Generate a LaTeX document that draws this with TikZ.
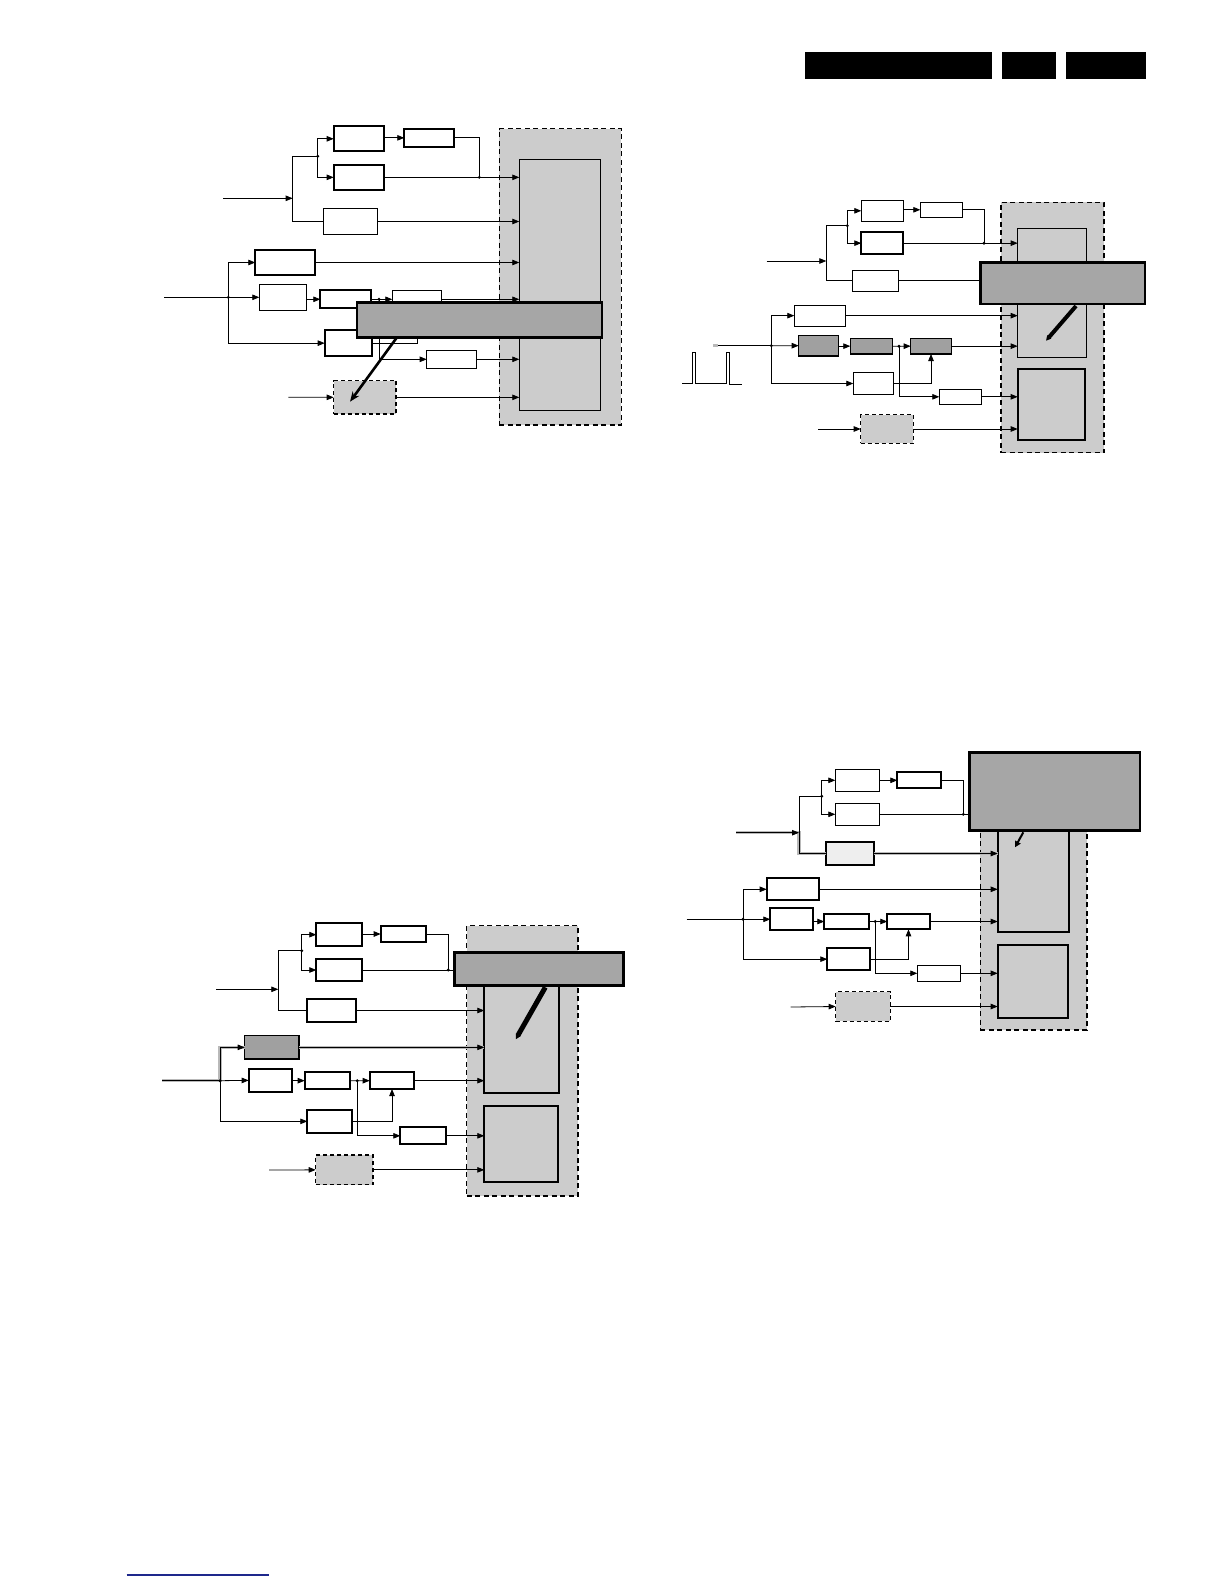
\documentclass[tikz,border=0pt]{standalone}
\usetikzlibrary{arrows.meta}
\definecolor{bggray}{RGB}{204,204,204}
\definecolor{ovgray}{RGB}{166,166,166}
\definecolor{dkgray}{RGB}{160,160,160}
\definecolor{ltgray}{RGB}{238,238,238}
\definecolor{halogray}{RGB}{185,185,185}
\definecolor{navyline}{RGB}{30,40,140}
\tikzset{
  box/.style={draw, line width=0.9pt, fill=white, inner sep=0pt, outer sep=0pt},
  tbox/.style={box, line width=1.7pt},
  dbox/.style={box, line width=1.5pt, fill=dkgray},
  lbox/.style={box, line width=1.7pt, fill=ltgray},
  cbox/.style={box, line width=1.3pt, fill=bggray, dash pattern=on 4pt off 3pt},
  outerbox/.style={box, line width=1.3pt, fill=bggray, dash pattern=on 5pt off 3.5pt},
  innerbox/.style={box, line width=1pt, fill=bggray},
  innertbox/.style={box, line width=1.7pt, fill=bggray},
  ovbox/.style={box, line width=2.8pt, fill=ovgray},
  hdrbox/.style={fill=black, inner sep=0pt, outer sep=0pt},
  ln/.style={line width=0.8pt},
  arr/.style={ln, -{Triangle[length=7pt,width=5.5pt]}},
  halo/.style={line width=3.2pt, halogray},
  pen/.style={line width=4pt, -{Triangle[length=5pt,width=5pt]}},
}
\newcommand\mkbox[6]{\node[#6, minimum width={(#4-#2)*1pt}, minimum height={(#5-#3)*1pt}] (#1) at ({(#2+#4)/2},{(#3+#5)/2}) {};}
\newcommand\jdot[1]{\fill (#1) circle (1.6pt);}
\begin{document}
\begin{tikzpicture}[x=1pt,y=-1pt]
\useasboundingbox[fill=white] (0,0) rectangle (1224,1584);

% ---------------- header ----------------
\mkbox{h1}{805}{52}{992}{78.7}{hdrbox}
\mkbox{h2}{1002}{52}{1056}{78.7}{hdrbox}
\mkbox{h3}{1066}{52}{1145.7}{78.7}{hdrbox}
\coordinate (fl1) at (126.7,1575);
\coordinate (fl2) at (269,1575);
\draw[navyline, line width=1.2pt] (fl1) -- (fl2);

% =============== Diagram 1 (top left) ===============
\mkbox{pout}{499.3}{128.7}{621.3}{425}{outerbox}
\mkbox{pin}{519.3}{159.3}{600}{410}{innerbox}
\mkbox{pa1}{333.7}{126.3}{384.3}{151.3}{tbox}
\mkbox{pa2}{404.3}{128.7}{454.3}{147}{tbox}
\mkbox{pa3}{333.7}{164.7}{384.3}{190}{tbox}
\mkbox{pa4}{323.3}{208.7}{377.7}{234.3}{box}
\mkbox{pb1}{255.3}{249.7}{315.3}{275.3}{tbox}
\mkbox{pb2}{259.3}{284.3}{306.7}{310.3}{box}
\mkbox{pb3}{320.3}{290.3}{371.3}{308.3}{tbox}
\mkbox{pb4}{392.3}{290.3}{441.7}{308.3}{box}
\mkbox{pb5}{324.7}{330.3}{372.3}{356}{tbox}
\mkbox{pb6}{426.7}{350.3}{476}{368.3}{box}
\mkbox{pc}{333.7}{380.7}{396}{414}{cbox}
\coordinate (pi1) at (223,198.3);
\coordinate (pv1) at (292.7,198.3);
\coordinate (pt1) at (292.7,156.3);
\coordinate (ps1) at (317.7,156.3);
\coordinate (pj1) at (479.3,177.3);
\coordinate (pi2) at (164,297.3);
\coordinate (ps2) at (228.3,297.3);
\coordinate (pk) at (379,299.3);
\coordinate (pi3) at (288.3,397.3);
\draw[arr] (pi1) -- (pv1);
\draw[ln] (pa4.west) -| (pt1) -- (ps1);
\draw[arr] (ps1) |- (pa1.west);
\draw[arr] (ps1) |- (pa3.west);
\draw[arr] (pa1.east |- pa2.west) -- (pa2.west);
\draw[ln] (pa2.east) -| (pj1);
\draw[arr] (pa3.east) -- (pa3.east -| pin.west);
\draw[arr] (pa4.east) -- (pa4.east -| pin.west);
\draw[ln] (pi2) -- (ps2);
\draw[arr] (ps2) |- (pb1.west);
\draw[arr] (ps2) -- (pb2.west);
\draw[arr] (ps2) |- (pb5.west);
\draw[arr] (pb1.east) -- (pb1.east -| pin.west);
\draw[arr] (pb2.east |- pb3.west) -- (pb3.west);
\draw[ln] (pb3.east) -- (pk);
\draw[arr] (pk) -- (pb4.west);
\draw[arr] (pk) |- (pb6.west);
\draw[arr] (pb4.east) -- (pb4.east -| pin.west);
\draw[arr] (pb6.east) -- (pb6.east -| pin.west);
\draw[arr] (pb5.east) -| (pb4.south);
\draw[arr] (pi3) -- (pc.west);
\draw[arr] (pc.east) -- (pc.east -| pin.west);
\jdot{ps1} \jdot{pj1} \jdot{ps2} \jdot{pk}
\mkbox{pov}{357}{302.7}{602}{337.7}{ovbox}
\coordinate (pp1) at (396.7,337.7);
\coordinate (pp2) at (350,401.7);
\draw[line width=2.6pt, -{Stealth[length=10pt,width=8pt]}] (pp1) -- (pp2);

% =============== Diagram 2 (top right) ===============
\mkbox{qout}{1001}{202.3}{1104}{452.7}{outerbox}
\mkbox{qin}{1017.7}{228.3}{1086.3}{357.3}{innerbox}
\mkbox{qin2}{1017.7}{369.3}{1085.3}{439.7}{innertbox}
\mkbox{qa1}{861.3}{200.3}{903.3}{221.3}{box}
\mkbox{qa2}{920.3}{202.3}{962.7}{217.3}{box}
\mkbox{qa3}{861.3}{232.3}{903.3}{254}{tbox}
\mkbox{qa4}{852.3}{270.3}{898.7}{291.3}{box}
\mkbox{qb1}{794.3}{305}{845.3}{326.3}{box}
\mkbox{qb2}{798.7}{335.3}{838.3}{356}{dbox}
\mkbox{qb3}{850.3}{338.3}{892.3}{354}{dbox}
\mkbox{qb4}{910.7}{338.3}{951.3}{354}{dbox}
\mkbox{qb5}{853.3}{372.7}{893.3}{394.3}{box}
\mkbox{qb6}{939.3}{389.3}{981.3}{404.3}{box}
\mkbox{qc}{860.7}{414.7}{913.3}{443.3}{cbox}
\coordinate (qi1) at (766.7,261);
\coordinate (qv1) at (826.3,261);
\coordinate (qt1) at (826.3,225.7);
\coordinate (qs1) at (847.3,225.7);
\coordinate (qj1) at (984,243.2);
\coordinate (qi2) at (713.3,345.7);
\coordinate (qh2) at (718,345.7);
\coordinate (qs2) at (771.3,345.7);
\coordinate (qk) at (899,346.2);
\coordinate (qi3) at (818,429);
\draw[arr] (qi1) -- (qv1);
\draw[ln] (qa4.west) -| (qt1) -- (qs1);
\draw[arr] (qs1) |- (qa1.west);
\draw[arr] (qs1) |- (qa3.west);
\draw[arr] (qa1.east |- qa2.west) -- (qa2.west);
\draw[ln] (qa2.east) -| (qj1);
\draw[arr] (qa3.east) -- (qa3.east -| qin.west);
\draw[arr] (qa4.east) -- (qa4.east -| qin.west);
\draw[halo] (qi2) -- (qh2);
\draw[ln] (qh2) -- (qs2);
\draw[arr] (qs2) |- (qb1.west);
\draw[arr] (qs2) -- (qb2.west);
\draw[arr] (qs2) |- (qb5.west);
\draw[arr] (qb1.east) -- (qb1.east -| qin.west);
\draw[arr] (qb2.east |- qb3.west) -- (qb3.west);
\draw[ln] (qb3.east) -- (qk);
\draw[arr] (qk) -- (qb4.west);
\draw[arr] (qk) |- (qb6.west);
\draw[arr] (qb4.east) -- (qb4.east -| qin.west);
\draw[arr] (qb6.east) -- (qb6.east -| qin2.west);
\draw[arr] (qb5.east) -| (qb4.south);
\draw[arr] (qi3) -- (qc.west);
\draw[arr] (qc.east) -- (qc.east -| qin2.west);
\jdot{qs1} \jdot{qj1} \jdot{qs2} \jdot{qk}
\mkbox{qov}{980.7}{262.7}{1145}{304}{ovbox}
\coordinate (qp1) at (1076,306);
\coordinate (qp2) at (1046,340.7);
\draw[pen] (qp1) -- (qp2);
% pulse waveform
\draw[line width=0.9pt] (682.3,383.3) -- (692.3,383.3) -- (692.3,352.3) -- (695.7,352.3) -- (695.7,383.3)
  -- (726,383.3) -- (726,352.3) -- (729.3,352.3) -- (729.3,384.3) -- (741.7,384.3);

% =============== Diagram 3 (bottom left) ===============
\mkbox{rout}{466.7}{925.7}{578}{1196}{outerbox}
\mkbox{rin}{484.3}{960}{559.3}{1092.7}{innertbox}
\mkbox{rin2}{484.3}{1105.7}{558.3}{1182.3}{innertbox}
\mkbox{ra1}{316.3}{923.3}{362.3}{946}{tbox}
\mkbox{ra2}{380.7}{925.7}{426.3}{942.3}{tbox}
\mkbox{ra3}{316.3}{958.7}{362.3}{981.3}{tbox}
\mkbox{ra4}{306.7}{998.7}{356.3}{1022.3}{tbox}
\mkbox{rb1}{244.7}{1035.7}{299}{1059}{dbox}
\mkbox{rb2}{248.7}{1068.7}{292.3}{1092}{tbox}
\mkbox{rb3}{304.7}{1072.3}{350.3}{1089}{tbox}
\mkbox{rb4}{369.7}{1072.3}{414.3}{1089}{tbox}
\mkbox{rb5}{307.3}{1109.7}{352.3}{1133}{tbox}
\mkbox{rb6}{400.3}{1127.3}{446.3}{1144.3}{tbox}
\mkbox{rc}{315.7}{1155}{373}{1184.7}{cbox}
\coordinate (ri1) at (216,989.3);
\coordinate (rv1) at (278.3,989.3);
\coordinate (rt1) at (278.3,950.7);
\coordinate (rs1) at (301.7,950.7);
\coordinate (rj1) at (448.3,970);
\coordinate (ri2) at (162,1080.7);
\coordinate (rs2) at (220,1080.7);
\coordinate (rk) at (357.3,1080.7);
\coordinate (ri3) at (269,1170);
\draw[arr] (ri1) -- (rv1);
\draw[ln] (ra4.west) -| (rt1) -- (rs1);
\draw[arr] (rs1) |- (ra1.west);
\draw[arr] (rs1) |- (ra3.west);
\draw[arr] (ra1.east |- ra2.west) -- (ra2.west);
\draw[ln] (ra2.east) -| (rj1);
\draw[arr] (ra3.east) -- (ra3.east -| rin.west);
\draw[arr] (ra4.east) -- (ra4.east -| rin.west);
\draw[halo] (ri2) -- (rs2) |- (rb1.west);
\draw[halo] (rb1.east) -- (rb1.east -| rin.west);
\draw[ln] (ri2) -- (rs2);
\draw[arr] (rs2) |- (rb1.west);
\draw[arr] (rs2) -- (rb2.west);
\draw[arr] (rs2) |- (rb5.west);
\draw[arr] (rb1.east) -- (rb1.east -| rin.west);
\draw[arr] (rb2.east |- rb3.west) -- (rb3.west);
\draw[ln] (rb3.east) -- (rk);
\draw[arr] (rk) -- (rb4.west);
\draw[arr] (rk) |- (rb6.west);
\draw[arr] (rb4.east) -- (rb4.east -| rin.west);
\draw[arr] (rb6.east) -- (rb6.east -| rin2.west);
\draw[arr] (rb5.east) -| (rb4.south);
\draw[arr] (ri3) -- (rc.west);
\draw[arr] (rc.east) -- (rc.east -| rin2.west);
\jdot{rs1} \jdot{rj1} \jdot{rs2} \jdot{rk}
\mkbox{rov}{454.3}{952.7}{623.3}{985.3}{ovbox}
\coordinate (rp1) at (545.3,987.3);
\coordinate (rp2) at (515.7,1039.3);
\draw[pen, line width=5pt] (rp1) -- (rp2);

% =============== Diagram 4 (bottom right) ===============
\mkbox{sout}{980.3}{800}{1087}{1030}{outerbox}
\mkbox{sin}{997.7}{815}{1069.3}{932}{innertbox}
\mkbox{sin2}{997.7}{944.7}{1068.3}{1018}{innertbox}
\mkbox{sa1}{835.3}{769.3}{879.3}{791.3}{box}
\mkbox{sa2}{897.3}{772.3}{941.3}{788.3}{tbox}
\mkbox{sa3}{835.3}{803.3}{879.3}{825.3}{box}
\mkbox{sa4}{826.3}{842.3}{874}{864.7}{lbox}
\mkbox{sb1}{766.7}{878.3}{819.3}{900.3}{tbox}
\mkbox{sb2}{770.3}{908.3}{812.7}{930.3}{tbox}
\mkbox{sb3}{824.3}{913.7}{868.7}{929.3}{tbox}
\mkbox{sb4}{887.3}{913.7}{929.7}{929.3}{tbox}
\mkbox{sb5}{827.3}{948.3}{869.7}{970}{tbox}
\mkbox{sb6}{917.3}{965.3}{960.3}{981.3}{box}
\mkbox{sc}{835.7}{991.7}{890.3}{1021.3}{cbox}
\coordinate (si1) at (736,832.7);
\coordinate (sv1) at (799,832.7);
\coordinate (st1) at (799,796.3);
\coordinate (ss1) at (821.7,796.3);
\coordinate (sj1) at (963.3,814.3);
\coordinate (si2) at (686.7,919.3);
\coordinate (ss2) at (743,919.3);
\coordinate (sk) at (875.3,921.5);
\coordinate (si3) at (790.7,1007);
\draw[halo] (si1) -- (sv1) |- (sa4.west);
\draw[halo] (sa4.east) -- (sa4.east -| sin.west);
\draw[arr] (si1) -- (sv1);
\draw[ln] (sa4.west) -| (st1) -- (ss1);
\draw[arr] (ss1) |- (sa1.west);
\draw[arr] (ss1) |- (sa3.west);
\draw[arr] (sa1.east |- sa2.west) -- (sa2.west);
\draw[ln] (sa2.east) -| (sj1);
\draw[arr] (sa3.east) -- (sa3.east -| sin.west);
\draw[arr] (sa4.east) -- (sa4.east -| sin.west);
\draw[ln] (si2) -- (ss2);
\draw[arr] (ss2) |- (sb1.west);
\draw[arr] (ss2) -- (sb2.west);
\draw[arr] (ss2) |- (sb5.west);
\draw[arr] (sb1.east) -- (sb1.east -| sin.west);
\draw[arr] (sb2.east |- sb3.west) -- (sb3.west);
\draw[ln] (sb3.east) -- (sk);
\draw[arr] (sk) -- (sb4.west);
\draw[arr] (sk) |- (sb6.west);
\draw[arr] (sb4.east) -- (sb4.east -| sin.west);
\draw[arr] (sb6.east) -- (sb6.east -| sin2.west);
\draw[arr] (sb5.east) -| (sb4.south);
\draw[arr] (si3) -- (sc.west);
\draw[arr] (sc.east) -- (sc.east -| sin2.west);
\jdot{ss1} \jdot{sj1} \jdot{ss2} \jdot{sk}
\mkbox{sov}{969.7}{752.7}{1140}{830.7}{ovbox}
\coordinate (sp1) at (1023.3,832.3);
\coordinate (sp2) at (1015,847.3);
\draw[line width=2pt, -{Triangle[length=6pt,width=6pt]}] (sp1) -- (sp2);
\end{tikzpicture}
\end{document}
